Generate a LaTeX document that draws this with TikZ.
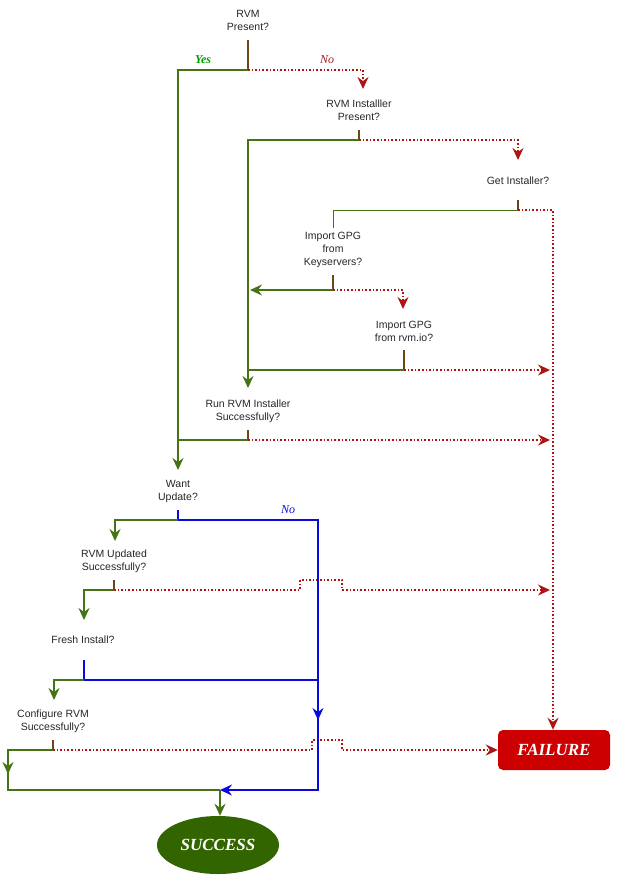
\documentclass[tikz,border=0pt]{standalone}
\usepackage{fontspec}
\setmainfont{Liberation Sans}
\newfontfamily\serifit{Liberation Serif}
\usetikzlibrary{arrows.meta,shapes.geometric}
\definecolor{gline}{RGB}{70,115,20}
\definecolor{rline}{RGB}{175,20,20}
\definecolor{bline}{RGB}{10,10,220}
\definecolor{stemc}{RGB}{110,70,20}
\definecolor{succ}{RGB}{50,100,0}
\definecolor{fail}{RGB}{204,0,0}
\tikzset{
  q/.style={align=center,font=\fontsize{10.5}{13}\selectfont,text=black!85,inner sep=1pt},
  yes/.style={draw=gline,line width=1.8pt},
  yest/.style={draw=gline,line width=1pt},
  nor/.style={draw=rline,line width=1.6pt,dotted},
  bl/.style={draw=bline,line width=1.6pt},
  stemst/.style={draw=stemc,line width=1.8pt},
  tip/.style={-{Stealth[length=12pt,width=11pt,inset=4pt]}},
}
\begin{document}
\begin{tikzpicture}[x=1pt,y=-1pt]
\useasboundingbox (0,0) rectangle (620,883);
% question nodes
\node[q] (q1) at (248,20) {RVM\\Present?};
\node[q] (q2) at (359,110) {RVM Installler\\Present?};
\node[q] (q3) at (518,181) {Get Installer?};
\node[q] (q4) at (333,250) {Import GPG\\from\\Keyservers?};
\node[q] (q5) at (404,331) {Import GPG\\from rvm.io?};
\node[q] (q6) at (248,411) {Run RVM Installer\\Successfully?};
\node[q] (q7) at (178,491) {Want\\Update?};
\node[q] (q8) at (114,561) {RVM Updated\\Successfully?};
\node[q] (q9) at (83,640) {Fresh Install?};
\node[q] (q10) at (53,721) {Configure RVM\\Successfully?};
\node[ellipse,fill=succ,minimum width=122,minimum height=58,text=white,font=\serifit\bfseries\itshape\fontsize{17}{20}\selectfont] (succ) at (218,845) {SUCCESS};
\node[rectangle,rounded corners=5pt,fill=fail,minimum width=112,minimum height=40,text=white,font=\serifit\bfseries\itshape\fontsize{17}{20}\selectfont] (fail) at (554,750) {FAILURE};
% junction coordinates
\coordinate (j1) at (248,70);
\coordinate (j2) at (359,140);
\coordinate (j3) at (518,210);
\coordinate (j4) at (333,290);
\coordinate (j5) at (404,370);
\coordinate (j6) at (248,440);
\coordinate (j7) at (178,520);
\coordinate (j8) at (114,590);
\coordinate (j9) at (84,680);
\coordinate (j10) at (53,750);
\coordinate (m) at (220,790);
\coordinate (fr1) at (550,370);
\coordinate (fr2) at (550,440);
\coordinate (fr3) at (550,590);
% stems
\draw[stemst] (248,40) -- (j1);
\draw[stemst] (359,130) -- (j2);
\draw[stemst] (518,200) -- (j3);
\draw[stemst] (333,275) -- (j4);
\draw[stemst] (404,350) -- (j5);
\draw[stemst] (248,430) -- (j6);
\draw[bl] (178,510) -- (j7);
\draw[stemst] (114,580) -- (j8);
\draw[bl] (84,660) -- (j9);
\draw[stemst] (53,740) -- (j10);
% yes paths
\draw[yes,tip] (j1) -| (178,470);
\draw[yes,tip] (j2) -| (248,388);
\draw[yest] (j3) -| (333,228);
\draw[yes,tip] (j4) -- (250,290);
\draw[yes] (j5) -- (248,370);
\draw[yes] (j6) -- (178,440);
\draw[yes,tip] (j7) -| (115,541);
\draw[yes,tip] (j8) -| (84,620);
\draw[yes,tip] (j9) -| (54,700);
\draw[yes,tip] (j10) -| (8,774);
\draw[yes] (8,770) |- (m);
\draw[yes,tip] (m) -- (m |- succ.north);
% no paths
\draw[nor,tip] (j1) -| (363,89);
\draw[nor,tip] (j2) -| (518,160);
\draw[nor,tip] (j3) -| (fail.north -| 553,0);
\draw[nor,tip] (j4) -| (403,309);
\draw[nor,tip] (j5) -- (fr1);
\draw[nor,tip] (j6) -- (fr2);
\draw[nor,tip] (j8) -- (300,590) -- (300,580) -- (342,580) -- (342,590) -- (fr3);
\draw[nor,tip] (j10) -- (312,750) -- (312,740) -- (342,740) -- (342,750) -- (fail.west);
% blue paths
\draw[bl,tip] (j7) -- (318,520) -- (318,720);
\draw[bl,tip] (318,716) -- (318,790) -- (m);
\draw[bl] (j9) -- (318,680);
% labels
\node[text=green!60!black,font=\serifit\bfseries\itshape\fontsize{12}{14}\selectfont] (ly) at (203,60) {Yes};
\node[text=rline,font=\serifit\itshape\fontsize{12}{14}\selectfont] (ln) at (327,60) {No};
\node[text=bline,font=\serifit\itshape\fontsize{12}{14}\selectfont] (lb) at (288,510) {No};
\end{tikzpicture}
\end{document}
